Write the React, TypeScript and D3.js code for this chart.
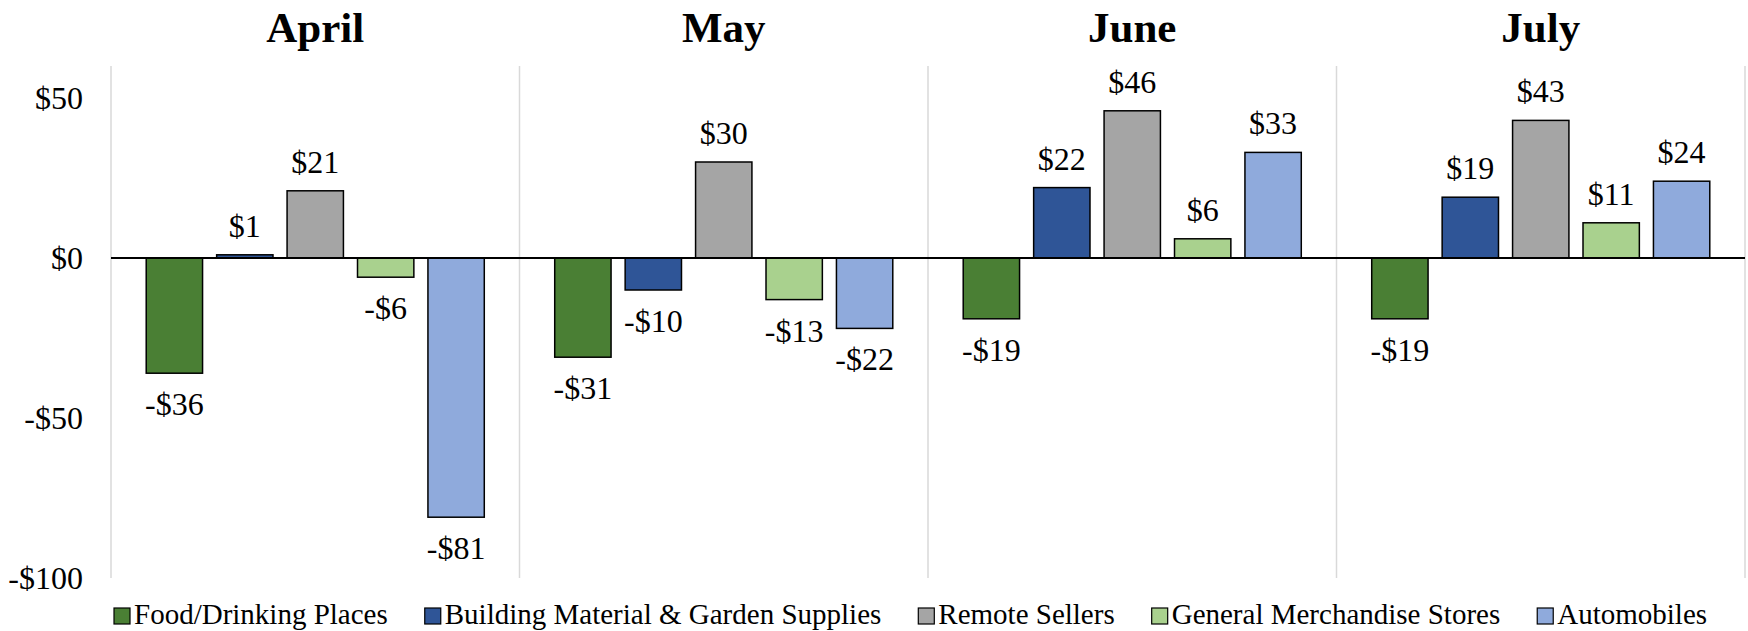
import React, { useEffect, useRef } from "react";
import * as d3 from "d3";

const months = ["April", "May", "June", "July"];
const seriesNames = [
  "Food/Drinking Places",
  "Building Material & Garden Supplies",
  "Remote Sellers",
  "General Merchandise Stores",
  "Automobiles",
];
const seriesColors = ["#4a7f34", "#2f5597", "#a5a5a5", "#a9d18e", "#8faadc"];

// values per month: April, May, June, July
const foodDrinking = [-36, -31, -19, -19];
const buildingMaterial = [1, -10, 22, 19];
const remoteSellers = [21, 30, 46, 43];
const generalMerchandise = [-6, -13, 6, 11];
const automobiles = [-81, -22, 33, 24];

const yTicks = [50, 0, -50, -100];

const width = 1748,
  height = 631;
const margin = { top: 66, right: 3, bottom: 53, left: 111 };

const money = (v: number) => (v < 0 ? "-$" : "$") + d3.format("d")(Math.abs(v));

export default function App() {
  const ref = useRef<SVGSVGElement>(null);

  useEffect(() => {
    const svg = d3.select(ref.current);
    svg.selectAll("*").remove();

    const allSeries = [foodDrinking, buildingMaterial, remoteSellers, generalMerchandise, automobiles];

    const x0 = d3
      .scaleBand<string>()
      .domain(months)
      .range([margin.left, width - margin.right]);
    const x1 = d3
      .scaleBand<string>()
      .domain(seriesNames)
      .range([0, x0.bandwidth()])
      .paddingInner(0.2)
      .paddingOuter(0.5);
    const y = d3
      .scaleLinear()
      .domain([-100, 60])
      .range([height - margin.bottom, margin.top]);

    // panel separators
    const seps = months.map((m) => x0(m) as number).concat([width - margin.right]);
    svg
      .append("g")
      .selectAll("line")
      .data(seps)
      .enter()
      .append("line")
      .attr("x1", (d) => d)
      .attr("x2", (d) => d)
      .attr("y1", y(60))
      .attr("y2", y(-100))
      .attr("stroke", "#d9d9d9")
      .attr("stroke-width", 1.5);

    // y axis labels
    svg
      .append("g")
      .selectAll("text")
      .data(yTicks)
      .enter()
      .append("text")
      .attr("x", margin.left - 28)
      .attr("y", (d) => y(d))
      .attr("dy", "0.35em")
      .attr("text-anchor", "end")
      .attr("font-size", 32)
      .text((d) => money(d));

    // month titles
    svg
      .append("g")
      .selectAll("text")
      .data(months)
      .enter()
      .append("text")
      .attr("x", (d) => (x0(d) as number) + x0.bandwidth() / 2)
      .attr("y", 42)
      .attr("text-anchor", "middle")
      .attr("font-size", 43)
      .attr("font-weight", "bold")
      .text((d) => d);

    // bars + labels
    const bars = svg.append("g");
    months.forEach((m, mi) => {
      seriesNames.forEach((s, si) => {
        const v = allSeries[si][mi];
        const bx = (x0(m) as number) + (x1(s) as number);
        bars
          .append("rect")
          .attr("x", bx)
          .attr("y", y(Math.max(0, v)))
          .attr("width", x1.bandwidth())
          .attr("height", Math.abs(y(v) - y(0)))
          .attr("fill", seriesColors[si])
          .attr("stroke", "#000")
          .attr("stroke-width", 1.5);
        bars
          .append("text")
          .attr("x", bx + x1.bandwidth() / 2)
          .attr("y", v >= 0 ? y(v) - 18 : y(v) + 42)
          .attr("text-anchor", "middle")
          .attr("font-size", 32)
          .text(money(v));
      });
    });

    // zero line
    svg
      .append("line")
      .attr("x1", margin.left)
      .attr("x2", width - margin.right)
      .attr("y1", y(0))
      .attr("y2", y(0))
      .attr("stroke", "#000")
      .attr("stroke-width", 2);

    // legend
    const legend = svg.append("g");
    let lx = 114;
    const ly = 624;
    seriesNames.forEach((s, si) => {
      legend
        .append("rect")
        .attr("x", lx)
        .attr("y", ly - 16)
        .attr("width", 16)
        .attr("height", 16)
        .attr("fill", seriesColors[si])
        .attr("stroke", "#000")
        .attr("stroke-width", 1.2);
      const t = legend
        .append("text")
        .attr("x", lx + 20)
        .attr("y", ly)
        .attr("font-size", 29)
        .text(s);
      const tw = (t.node() as SVGTextElement).getComputedTextLength();
      lx += 20 + tw + 37;
    });
  }, []);

  return (
    <svg
      ref={ref}
      width={width}
      height={height}
      fontFamily="'Liberation Serif', 'Times New Roman', serif"
      style={{ position: "absolute", left: 0, top: 0, background: "#fff", fontFamily: "'Liberation Serif', serif" }}
    />
  );
}
